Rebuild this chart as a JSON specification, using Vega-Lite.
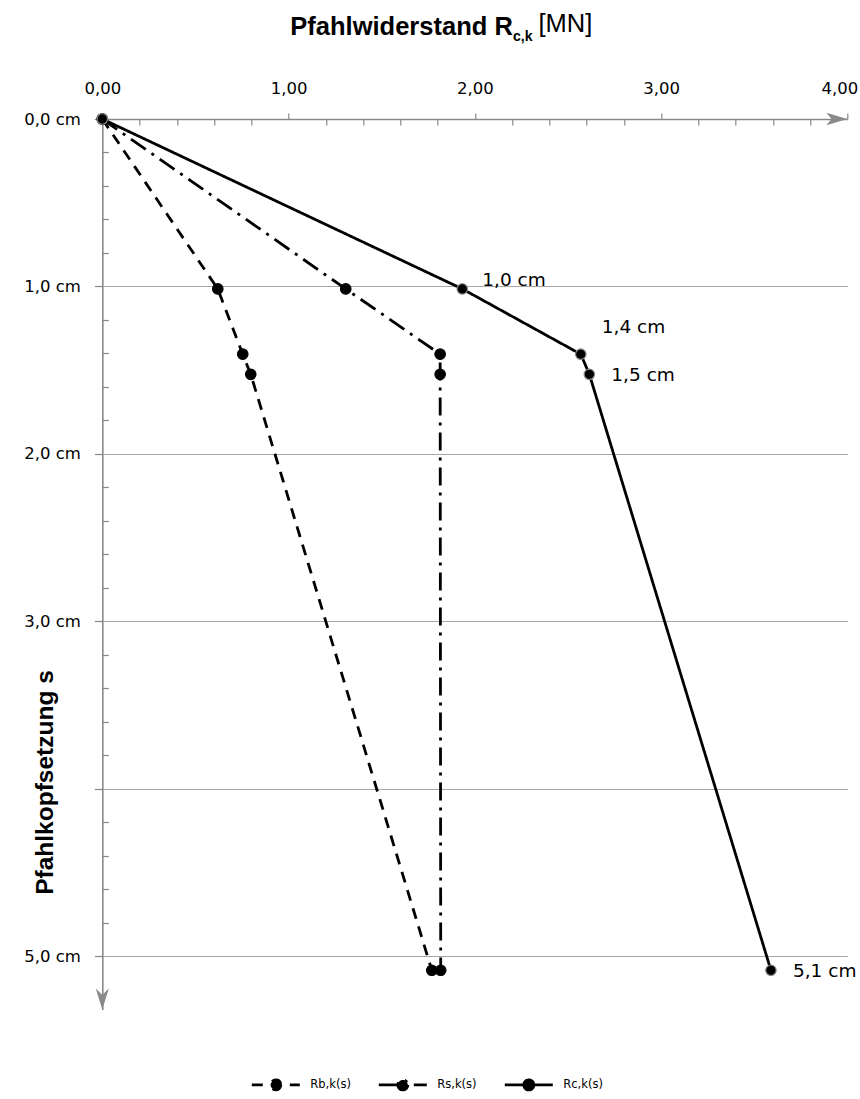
{
  "$schema": "https://vega.github.io/schema/vega-lite/v6.json",
  "width": 745,
  "height": 890.6,
  "autosize": {"type": "none"},
  "padding": {"left": 102.3, "top": 119, "right": 12.7, "bottom": 89.4},
  "background": "white",
  "config": {"view": {"stroke": null}},
  "title": {
    "text": "\u200b\u2002\u2002[MN]",
    "subtitle": "c,k",
    "anchor": "start",
    "frame": "group",
    "dx": 410.7,
    "offset": -30,
    "font": "Liberation Sans",
    "fontSize": 25.5,
    "fontWeight": "normal",
    "color": "black",
    "subtitleFont": "Liberation Sans",
    "subtitleFontSize": 14,
    "subtitleFontWeight": "bold",
    "subtitleColor": "black",
    "subtitlePadding": -7.5
  },
  "datasets": {
    "curves": [
      {"series": "Rb,k(s)", "R": 0, "s": 0, "label": ""},
      {"series": "Rb,k(s)", "R": 0.62, "s": 1.015, "label": ""},
      {"series": "Rb,k(s)", "R": 0.754, "s": 1.405, "label": ""},
      {"series": "Rb,k(s)", "R": 0.797, "s": 1.525, "label": ""},
      {"series": "Rb,k(s)", "R": 1.769, "s": 5.085, "label": ""},
      {"series": "Rs,k(s)", "R": 0, "s": 0, "label": ""},
      {"series": "Rs,k(s)", "R": 1.307, "s": 1.015, "label": ""},
      {"series": "Rs,k(s)", "R": 1.814, "s": 1.405, "label": ""},
      {"series": "Rs,k(s)", "R": 1.814, "s": 1.525, "label": ""},
      {"series": "Rs,k(s)", "R": 1.817, "s": 5.085, "label": ""},
      {"series": "Rc,k(s)", "R": 0, "s": 0, "label": ""},
      {"series": "Rc,k(s)", "R": 1.933, "s": 1.015, "label": "1,0 cm"},
      {"series": "Rc,k(s)", "R": 2.569, "s": 1.405, "label": "1,4 cm"},
      {"series": "Rc,k(s)", "R": 2.615, "s": 1.525, "label": "1,5 cm"},
      {"series": "Rc,k(s)", "R": 3.59, "s": 5.085, "label": "5,1 cm"}
    ],
    "arrows": [
      {"R": 4, "s": 0, "dir": "right"},
      {"R": 0, "s": 5.32, "dir": "down"}
    ]
  },
  "layer": [
    {
      "data": {"name": "curves"},
      "mark": {"type": "line", "color": "black", "strokeWidth": 2.8},
      "encoding": {
        "x": {
          "field": "R", "type": "quantitative",
          "scale": {"domain": [0, 4], "nice": false, "zero": false},
          "axis": {
            "orient": "top",
            "values": [0,0.2,0.4,0.6,0.8,1,1.2,1.4,1.6,1.8,2,2.2,2.4,2.6,2.8,3,3.2,3.4,3.6,3.8,4],
            "tickCount": 200,
            "labelOverlap": false,
            "labelFlush": false,
            "labelExpr": "abs(datum.value-round(datum.value))<0.001 ? replace(format(datum.value,'.2f'),'.',',') : ''",
            "grid": false,
            "domainColor": "#898989",
            "domainWidth": 1.6,
            "tickColor": "#898989",
            "tickWidth": 1.2,
            "tickSize": {"condition": {"test": "abs(datum.value-round(datum.value))<0.001", "value": 6}, "value": -6},
            "labelOffset": {"condition": {"test": "datum.value>3.9", "value": -8}, "value": 0},
            "labelFont": "DejaVu Sans",
            "labelFontSize": 16.5,
            "labelColor": "black",
            "labelPadding": 17,
            "title": "Pfahlwiderstand R",
            "titleFont": "Liberation Sans",
            "titleFontSize": 25.5,
            "titleFontWeight": "bold",
            "titleColor": "black",
            "titleAlign": "right",
            "titleX": 410,
            "titleY": -85,
            "titleBaseline": "alphabetic"
          }
        },
        "y": {
          "field": "s", "type": "quantitative",
          "scale": {"domain": [0, 5.32], "nice": false, "zero": false, "reverse": true},
          "axis": {
            "orient": "left",
            "values": [0,0.2,0.4,0.6,0.8,1,1.2,1.4,1.6,1.8,2,2.2,2.4,2.6,2.8,3,3.2,3.4,3.6,3.8,4,4.2,4.4,4.6,4.8,5],
            "tickCount": 200,
            "labelOverlap": false,
            "labelFlush": false,
            "labelExpr": "(abs(datum.value-round(datum.value))<0.001 && round(datum.value)!=4) ? replace(format(datum.value,'.1f'),'.',',')+' cm' : ''",
            "grid": true,
            "gridColor": "#a6a6a6",
            "gridWidth": 1.2,
            "gridOpacity": {"condition": {"test": "abs(datum.value-round(datum.value))<0.001 && datum.value>0.5", "value": 1}, "value": 0},
            "domainColor": "#898989",
            "domainWidth": 1.6,
            "tickColor": "#898989",
            "tickWidth": 1.2,
            "tickSize": {"condition": {"test": "abs(datum.value-round(datum.value))<0.001", "value": 8}, "value": -6},
            "labelFont": "DejaVu Sans",
            "labelFontSize": 16.5,
            "labelColor": "black",
            "labelPadding": 14,
            "title": "Pfahlkopfsetzung s",
            "titleFont": "Liberation Sans",
            "titleFontSize": 24.5,
            "titleFontWeight": "bold",
            "titleColor": "black",
            "titleAngle": -90,
            "titleX": -57,
            "titleY": 663,
            "titleAlign": "center",
            "titleBaseline": "middle"
          }
        },
        "strokeDash": {
          "field": "series", "type": "nominal",
          "scale": {"domain": ["Rb,k(s)", "Rs,k(s)", "Rc,k(s)"], "range": [[11, 8], [18, 7, 3, 7], [1, 0]]},
          "legend": {
            "orient": "none",
            "legendX": 148,
            "legendY": 940,
            "direction": "horizontal",
            "columns": 3,
            "title": null,
            "symbolType": "M-1,0H1M0.21,0A0.21,0.21,0,1,1,-0.21,0A0.21,0.21,0,1,1,0.21,0Z",
            "symbolSize": 2304,
            "symbolStrokeColor": "black",
            "symbolFillColor": "black",
            "symbolStrokeWidth": 2.8,
            "labelFont": "DejaVu Sans",
            "labelFontSize": 11.5,
            "labelColor": "black",
            "labelOffset": 9,
            "columnPadding": 21,
            "encode": {"symbols": {"update": {"fill": {"value": "black"}, "stroke": {"value": "black"}}}}
          }
        },
        "order": {"field": "s", "type": "quantitative"}
      }
    },
    {
      "data": {"name": "curves"},
      "mark": {"type": "point", "shape": "circle", "filled": true, "size": 110, "fill": "black", "opacity": 1},
      "encoding": {
        "x": {"field": "R", "type": "quantitative"},
        "y": {"field": "s", "type": "quantitative"},
        "stroke": {"condition": {"test": "datum.series === 'Rc,k(s)'", "value": "#8a8a8a"}, "value": "black"},
        "strokeWidth": {"value": 1.2}
      }
    },
    {
      "data": {"name": "curves"},
      "transform": [{"filter": "datum.label === '1,0 cm'"}],
      "mark": {"type": "text", "align": "left", "baseline": "middle", "dx": 20, "dy": -9, "font": "DejaVu Sans", "fontSize": 18.5, "color": "black"},
      "encoding": {
        "x": {"field": "R", "type": "quantitative"},
        "y": {"field": "s", "type": "quantitative"},
        "text": {"field": "label"}
      }
    },
    {
      "data": {"name": "curves"},
      "transform": [{"filter": "datum.label === '1,4 cm'"}],
      "mark": {"type": "text", "align": "left", "baseline": "middle", "dx": 21, "dy": -27, "font": "DejaVu Sans", "fontSize": 18.5, "color": "black"},
      "encoding": {
        "x": {"field": "R", "type": "quantitative"},
        "y": {"field": "s", "type": "quantitative"},
        "text": {"field": "label"}
      }
    },
    {
      "data": {"name": "curves"},
      "transform": [{"filter": "datum.label === '1,5 cm' || datum.label === '5,1 cm'"}],
      "mark": {"type": "text", "align": "left", "baseline": "middle", "dx": 22, "dy": 1, "font": "DejaVu Sans", "fontSize": 18.5, "color": "black"},
      "encoding": {
        "x": {"field": "R", "type": "quantitative"},
        "y": {"field": "s", "type": "quantitative"},
        "text": {"field": "label"}
      }
    },
    {
      "data": {"name": "arrows"},
      "mark": {"type": "point", "filled": true, "size": 441, "color": "#898989", "opacity": 1},
      "encoding": {
        "x": {"field": "R", "type": "quantitative"},
        "y": {"field": "s", "type": "quantitative"},
        "shape": {
          "field": "dir", "type": "nominal",
          "scale": {"domain": ["right", "down"], "range": ["M0,0L-2,-0.6L-1.5,0L-2,0.6Z", "M0,0L-0.62,-2L0,-1.4L0.62,-2Z"]},
          "legend": null
        }
      }
    }
  ]
}
